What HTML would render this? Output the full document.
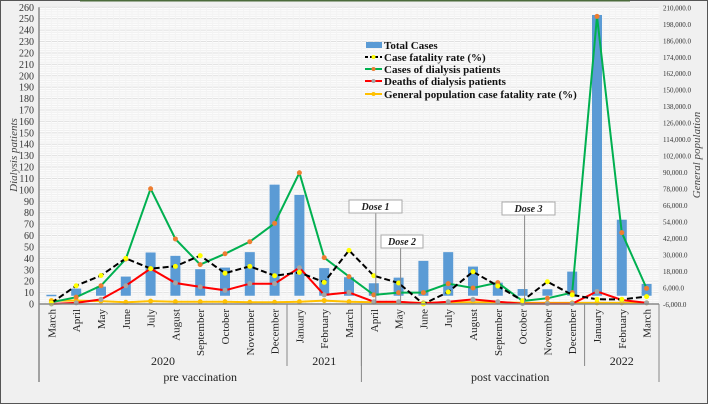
<!DOCTYPE html>
<html><head><meta charset="utf-8"><style>
body{margin:0;background:#f0f0f0;}
svg{display:block;font-family:"Liberation Serif",serif;}
</style></head><body>
<svg id="c" width="708" height="404"></svg>
<script>
const months=["March","April","May","June","July","August","September","October","November","December","January","February","March","April","May","June","July","August","September","October","November","December","January","February","March"];
const totalCases=[580,5200,6640,13950,31500,29060,19350,20500,31750,80900,73400,20100,13500,9100,13200,25400,31750,21250,9560,4900,4750,17600,204400,55360,8600];
const caseFatality=[1,16,25,40,31,33,42.4,27,33,24.8,27.7,19,47,24.8,18.4,0,10.5,28.3,15.8,2.9,19.5,8,4.1,4,6.5];
const dialysisCases=[1.5,6,16,39.4,101,57,34.5,44,54.6,70.7,115,40.6,24,8,10,10,17.8,14,18.7,2.6,5,10,252,62.5,13.7];
const dialysisDeaths=[0,1,4,16,31,18.4,15,12,17.8,17.8,31.8,8,10.2,2,2,0.5,2,4,2,0.3,0.3,0.3,11,3.5,1];
const genCFR=[3,3,2.5,1.5,2.5,2,2,2,1.5,1.5,2,3,2,1.5,1.5,1,1.5,1.5,1.5,1,1,1,1,1,1];
const leftTicks=[0,10,20,30,40,50,60,70,80,90,100,110,120,130,140,150,160,170,180,190,200,210,220,230,240,250,260];
const rightTicks=[-6000,6000,18000,30000,42000,54000,66000,78000,90000,102000,114000,126000,138000,150000,162000,174000,186000,198000,210000];
const years=[["2020",0,10],["2021",10,13],["2022",22,25]];
const phases=[["pre vaccination",0,13],["post vaccination",13,25]];
const doses=[["Dose 1",13,349,200],["Dose 2",14,381,235],["Dose 3",19,502,202]];

const NS="http://www.w3.org/2000/svg";
const svg=document.getElementById('c');
const X0=39,X1=659,Y0=304,Y1=7.3;
const bw=(X1-X0)/months.length;
const xc=i=>X0+bw*(i+0.5);
const yL=v=>Y0-(v/260)*(Y0-Y1);
const yR=v=>Y0-((v+6000)/216000)*(Y0-Y1);
function el(t,a,p){const e=document.createElementNS(NS,t);for(const k in a)e.setAttribute(k,a[k]);(p||svg).appendChild(e);return e;}
function tx(s,a,p){const e=el('text',a,p);e.textContent=s;return e;}

el('rect',{x:0.5,y:0.5,width:707,height:403,fill:'#f0f0f0',stroke:'#555'});
el('line',{x1:80,y1:0.5,x2:630,y2:0.5,stroke:'#4a6a3a','stroke-width':2});
const plot=el('rect',{x:X0,y:Y1,width:X1-X0,height:Y0-Y1,fill:'#fcfcfc'});


for(let v=0;v<=260;v+=2){
  el('line',{x1:X0,x2:X1,y1:yL(v),y2:yL(v),stroke:v%10?'#f0f0f0':'#e0e0e0','stroke-width':1});
}
for(let i=0;i<=months.length*4;i++){const x=X0+bw*i/4;el('line',{x1:x,x2:x,y1:Y1,y2:Y0,stroke:'#f3f3f3'});}

leftTicks.forEach(v=>{const t=tx(v,{x:34,y:yL(v)+3.5,'text-anchor':'end','font-size':10,fill:'#333'});
});
rightTicks.forEach(v=>{const s=v.toLocaleString('en-US')+'.0';const t=tx(s,{x:663,y:yR(v)+3,'font-size':7,fill:'#333'});
});
const yt1=tx('Dialysis patients',{transform:'translate(17,155) rotate(-90)','text-anchor':'middle','font-size':11,'font-style':'italic',fill:'#444'});

const yt2=tx('General population',{transform:'translate(700,155) rotate(-90)','text-anchor':'middle','font-size':11,'font-style':'italic',fill:'#444'});


totalCases.forEach((v,i)=>{const b=el('rect',{x:xc(i)-5,y:Math.min(yR(v),yR(0)-1),width:10,height:Math.max(1.5,yR(0)-yR(v)),fill:'#5b9bd5'});
});

function series(arr,color,mk,dash,name){
  const d=arr.map((v,i)=>(i?'L':'M')+xc(i).toFixed(1)+','+yL(v).toFixed(1)).join(' ');
  const p=el('path',{d,fill:'none',stroke:color,'stroke-width':2,'stroke-dasharray':dash||'none'});
  
  arr.forEach((v,i)=>{const c=el('circle',{cx:xc(i),cy:yL(v),r:2.5,fill:mk});
  });
}
series(genCFR,'#ffc000','#ffc000',null,'general-cfr');
series(dialysisDeaths,'#ff0000','#a5a5a5',null,'dialysis-deaths');
series(dialysisCases,'#00b050','#ed7d31',null,'dialysis-cases');
series(caseFatality,'#000','#ffff00','6,3','case-fatality');

el('line',{x1:X0,x2:X0,y1:Y1,y2:382,stroke:'#888','stroke-width':1.5});
el('line',{x1:X0,x2:X1,y1:Y0,y2:Y0,stroke:'#888','stroke-width':1.5});
el('line',{x1:X1,x2:X1,y1:Y0,y2:382,stroke:'#888'});
months.forEach((m,i)=>{const t=tx(m,{transform:`translate(${xc(i)+4},309) rotate(-90)`,'text-anchor':'end','font-size':11,fill:'#222'});
});
years.forEach(([s,a,b])=>{const t=tx(s,{x:(xc(a)+xc(b-1))/2,y:365,'text-anchor':'middle','font-size':12,fill:'#222'});

if(a>0)el('line',{x1:X0+bw*a,x2:X0+bw*a,y1:Y0,y2:366,stroke:'#888'});
if(b<25)el('line',{x1:X0+bw*b,x2:X0+bw*b,y1:Y0,y2:366,stroke:'#888'});});
phases.forEach(([s,a,b])=>{const t=tx(s,{x:(xc(a)+xc(b-1))/2,y:381,'text-anchor':'middle','font-size':12,fill:'#222'});

if(a>0)el('line',{x1:X0+bw*a,x2:X0+bw*a,y1:Y0,y2:382,stroke:'#888'});});

doses.forEach(([s,i,bx,by])=>{const x=xc(i)+2;
el('line',{x1:x,x2:x,y1:by+13,y2:Y0,stroke:'#888'});
const r=el('rect',{x:bx,y:by,width:s==='Dose 2'?42:53,height:13,fill:'#fff',stroke:'#aaa'});

tx(s,{x:bx+(s==='Dose 2'?21:26.5),y:by+10,'text-anchor':'middle','font-size':10,'font-weight':'bold','font-style':'italic',fill:'#222'});});

const lg=el('g',{});

const items=[['Total Cases','bar'],['Case fatality rate (%)','#000','#ffff00','3,2'],['Cases of dialysis patients','#00b050','#ed7d31'],['Deaths of dialysis patients','#ff0000','#a5a5a5'],['General population case fatality rate  (%)','#ffc000','#ffc000']];
const ly=[49,61,73,85,98];
items.forEach((it,k)=>{const y=ly[k];
const g=el('g',{},lg);
if(it[1]==='bar')el('rect',{x:366,y:y-7,width:16,height:6,fill:'#5b9bd5'},g);
else{el('line',{x1:365,x2:382,y1:y-4,y2:y-4,stroke:it[1],'stroke-width':2,'stroke-dasharray':it[3]||'none'},g);el('circle',{cx:373.5,cy:y-4,r:2,fill:it[2]},g);}
tx(it[0],{x:384,y:y,'font-size':11,'font-weight':'bold',fill:'#111'},g);});
</script>
</body></html>
